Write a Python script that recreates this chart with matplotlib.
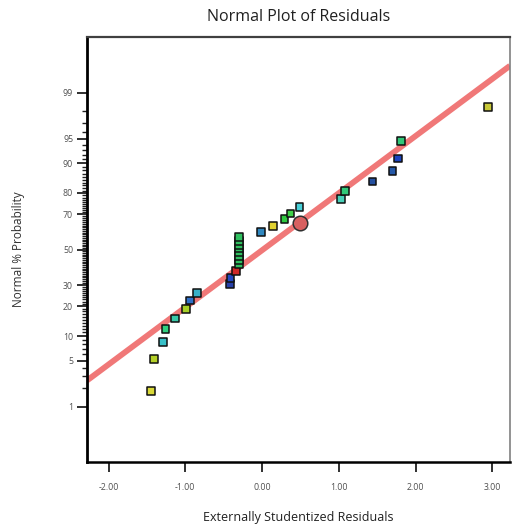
import numpy as np
import matplotlib
matplotlib.use("Agg")
import matplotlib.pyplot as plt
from statistics import NormalDist

plt.rcParams['font.family'] = ['Open Sans', 'DejaVu Sans']

# externally studentized residuals and their normal % probability
resid = [-1.45, -1.41, -1.29, -1.26, -1.13, -0.99, -0.94, -0.85,
         -0.42, -0.41, -0.34,
         -0.30, -0.30, -0.30, -0.30, -0.30, -0.30, -0.30, -0.30,
         -0.01, 0.14, 0.29, 0.37, 0.49,
         1.03, 1.08, 1.44, 1.70, 1.77, 1.81, 2.94]
prob = [1.8, 5.2, 8.6, 11.9, 15.3, 18.9, 22.5, 25.9,
        30.5, 33.7, 37.6,
        41.6, 43.9, 46.1, 48.3, 50.6, 52.8, 55.1, 57.3,
        60.4, 63.7, 67.4, 70.5, 73.8,
        77.4, 80.9, 84.4, 87.9, 91.2, 94.7, 98.3]
colors = ['#d8d838', '#b4d028', '#38c0c8', '#30d080', '#38c8a8', '#a8d028',
          '#3070c8', '#38b0c8',
          '#2840a8', '#2448c0', '#d02828',
          '#30c060', '#30c060', '#30c060', '#30c060', '#30c060', '#30c060',
          '#30c060', '#30c060',
          '#3088c0', '#e0d030', '#30c840', '#40d048', '#48d0d8',
          '#48d0b8', '#30c878', '#2450a0', '#2458a8', '#1c44c0', '#30c878',
          '#c8c838']

# highlighted run
sel_resid = 0.50
sel_prob = 65.6

# normal line through the residuals
fit_mean = 0.01
fit_sd = 1.18

ytick_vals = [1, 5, 10, 20, 30, 50, 70, 80, 90, 95, 99]
xtick_vals = [-2, -1, 0, 1, 2, 3]

nd = NormalDist()
def pz(p):
    if np.ndim(p) == 0:
        return nd.inv_cdf(p / 100.0)
    return np.array([nd.inv_cdf(v / 100.0) for v in p])

fig = plt.figure(figsize=(5.14, 5.27), dpi=100)
ax = fig.add_axes([0.1693, 0.1233, 0.8229, 0.8071])

xlo, xhi = -2.28, 3.23
xx = np.array([xlo, xhi])
ax.plot(xx, (xx - fit_mean) / fit_sd, color='#f07878', lw=4.2, solid_capstyle='butt', zorder=2)

ax.scatter(resid, pz(prob), marker='s', s=30, c=colors, edgecolors='#101010',
           linewidths=1.1, zorder=3)
ax.scatter([sel_resid], [pz(sel_prob)], marker='o', s=110, c='#d86060',
           edgecolors='#303030', linewidths=1.1, zorder=4)

ax.set_xlim(xlo, xhi)
ax.set_ylim(-3.15, 3.16)

ax.set_xticks(xtick_vals)
ax.set_xticklabels(['%.2f' % v for v in xtick_vals])
ax.set_yticks(pz(ytick_vals))
ax.set_yticklabels([str(v) for v in ytick_vals])
minor = [v for v in range(2, 99) if v not in ytick_vals]
ax.set_yticks(pz(minor), minor=True)

ax.tick_params(axis='both', which='major', direction='out', length=7, width=1.3,
               labelsize=6.3, labelcolor='#505050', color='#202020', pad=3)
ax.tick_params(axis='y', which='minor', direction='out', length=3.5, width=1.0,
               color='#202020')
ax.tick_params(axis='x', pad=8)

ax.spines['left'].set_linewidth(2.0)
ax.spines['bottom'].set_linewidth(1.8)
ax.spines['top'].set_linewidth(1.6)
ax.spines['top'].set_color('#404040')
ax.spines['right'].set_linewidth(1.2)
ax.spines['right'].set_color('#808080')

ax.set_title('Normal Plot of Residuals', fontsize=11.5, color='#202020', pad=11)
ax.set_xlabel('Externally Studentized Residuals', fontsize=9, color='#202020', labelpad=14)
ax.set_ylabel('Normal % Probability', fontsize=8.5, color='#303030', labelpad=27)

fig.savefig('out.png', dpi=100)
